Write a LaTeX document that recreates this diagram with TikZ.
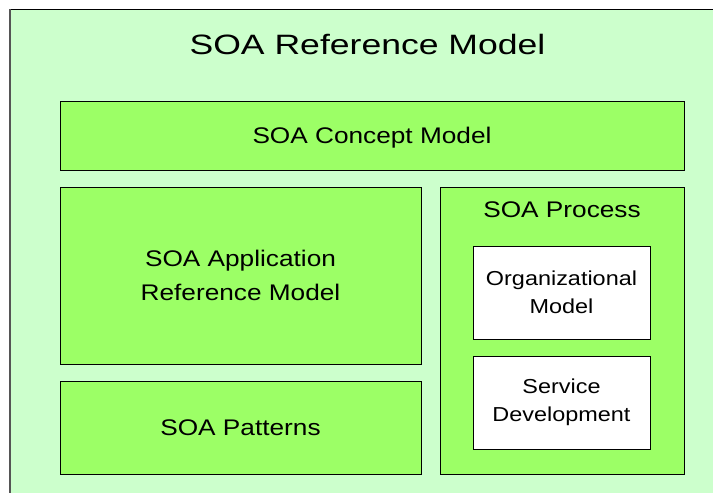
\documentclass[tikz,border=0pt]{standalone}
\usepackage{fontspec}
\setmainfont{Liberation Sans}[FakeStretch=1.16]
\newfontfamily\titlefont{Liberation Sans}[FakeStretch=1.27]
\usepackage[HTML]{xcolor}
\definecolor{paleGreen}{HTML}{CCFFCC}
\definecolor{limeGreen}{HTML}{9CFF66}
\definecolor{frameGray}{HTML}{555555}
\usepackage{tikz}
\usetikzlibrary{positioning}

\begin{document}
\begin{tikzpicture}[x=1pt,y=-1pt,
  part/.style={draw=black,fill=limeGreen,line width=1pt,inner sep=0pt,outer sep=0pt,
    align=center,font=\fontsize{22.6}{33.5}\selectfont},
  subpart/.style={part,fill=white,font=\fontsize{20.2}{27.5}\selectfont}]
\useasboundingbox (0,0) rectangle (713,493);
% outer frame, cut off at right and bottom
\fill[paleGreen] (10,9) rectangle (713,493);
\draw[line width=1pt] (713,9) -- (10,9);
\draw[line width=1.2pt,frameGray] (10,9) -- (10,493);
\node[inner sep=0pt] (title) at (367.5,44) {\titlefont\fontsize{28}{34}\selectfont SOA Reference Model};

% layers
\node[part,text depth=0pt,minimum width=624pt,minimum height=69pt] (concept) at (372,135.5) {SOA Concept Model};
\node[part,minimum width=361pt,minimum height=177pt] (appref) at (240.5,275.5) {SOA Application\\Reference Model};
\node[part,minimum width=361pt,minimum height=93pt] (patterns) at (240.5,427.5) {SOA Patterns};

% process column
\node[part,minimum width=244pt,minimum height=287pt] (process) at (562,330.5) {};
\node[inner sep=0pt,below=15pt of process.north,font=\fontsize{22.6}{33.5}\selectfont] (proctitle) {SOA Process};
\node[subpart,minimum width=177pt,minimum height=93pt] (orgmodel) at (561.5,292.5) {Organizational\\Model};
\node[subpart,minimum width=177pt,minimum height=93pt] (servdev) at (561.5,402.5) {Service\\Development};
\end{tikzpicture}
\end{document}
